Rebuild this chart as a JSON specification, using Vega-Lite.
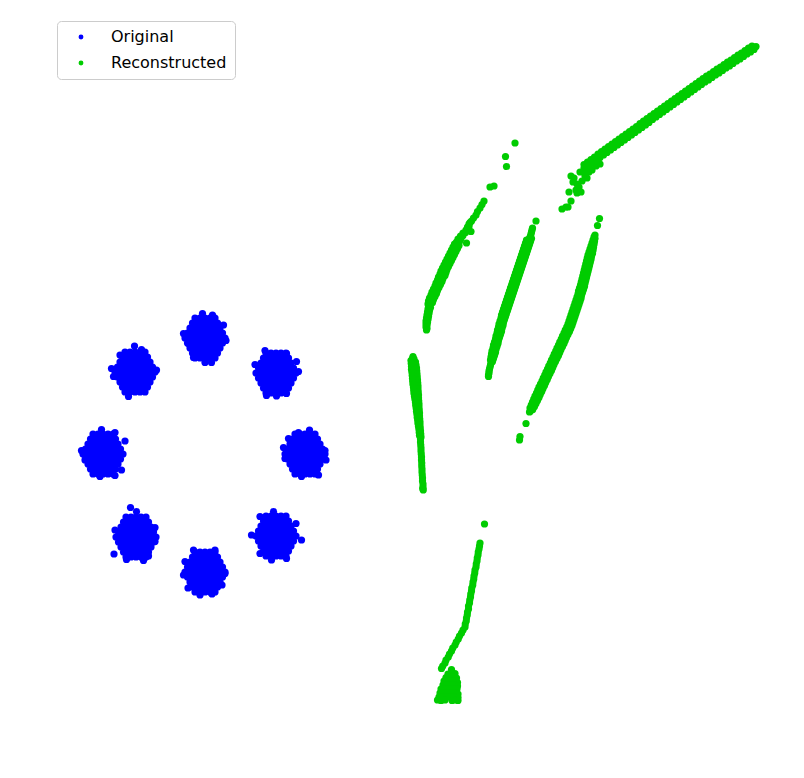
{
"$schema":"https://vega.github.io/schema/vega-lite/v6.json",
"width":804,"height":778,"padding":0,"autosize":{"type":"none"},
"config":{"view":{"stroke":null}},
"datasets":{
"orig":[
{"x":-0.18,"y":2.74},{"x":-0.08,"y":2.74},{"x":0.02,"y":2.74},{"x":0.12,"y":2.74},{"x":0.22,"y":2.74},
{"x":-0.23,"y":2.64},{"x":-0.13,"y":2.64},{"x":-0.03,"y":2.64},{"x":0.07,"y":2.64},{"x":0.17,"y":2.64},{"x":0.27,"y":2.64},
{"x":-0.28,"y":2.54},{"x":-0.18,"y":2.54},{"x":-0.08,"y":2.54},{"x":0.02,"y":2.54},{"x":0.12,"y":2.54},{"x":0.22,"y":2.54},{"x":0.32,"y":2.54},
{"x":-0.33,"y":2.44},{"x":-0.23,"y":2.44},{"x":-0.13,"y":2.44},{"x":-0.03,"y":2.44},{"x":0.07,"y":2.44},{"x":0.17,"y":2.44},{"x":0.27,"y":2.44},{"x":0.37,"y":2.44},
{"x":-0.38,"y":2.34},{"x":-0.28,"y":2.34},{"x":-0.18,"y":2.34},{"x":-0.08,"y":2.34},{"x":0.02,"y":2.34},{"x":0.12,"y":2.34},{"x":0.22,"y":2.34},{"x":0.32,"y":2.34},{"x":0.42,"y":2.34},
{"x":-0.33,"y":2.24},{"x":-0.23,"y":2.24},{"x":-0.13,"y":2.24},{"x":-0.03,"y":2.24},{"x":0.07,"y":2.24},{"x":0.17,"y":2.24},{"x":0.27,"y":2.24},{"x":0.37,"y":2.24},
{"x":-0.28,"y":2.14},{"x":-0.18,"y":2.14},{"x":-0.08,"y":2.14},{"x":0.02,"y":2.14},{"x":0.12,"y":2.14},{"x":0.22,"y":2.14},{"x":0.32,"y":2.14},
{"x":-0.23,"y":2.04},{"x":-0.13,"y":2.04},{"x":-0.03,"y":2.04},{"x":0.07,"y":2.04},{"x":0.17,"y":2.04},{"x":0.27,"y":2.04},
{"x":-0.18,"y":1.94},{"x":-0.08,"y":1.94},{"x":0.02,"y":1.94},{"x":0.12,"y":1.94},{"x":0.22,"y":1.94},
{"x":-0.03,"y":2.83},{"x":0.17,"y":2.8},{"x":-0.41,"y":2.43},{"x":0.44,"y":2.29},{"x":-0.31,"y":2.23},{"x":0.02,"y":1.85},{"x":0.15,"y":1.85},{"x":-0.21,"y":1.95},{"x":0.39,"y":2.6},

{"x":-1.58,"y":2.06},{"x":-1.48,"y":2.06},{"x":-1.38,"y":2.06},{"x":-1.28,"y":2.06},{"x":-1.18,"y":2.06},
{"x":-1.63,"y":1.96},{"x":-1.53,"y":1.96},{"x":-1.43,"y":1.96},{"x":-1.33,"y":1.96},{"x":-1.23,"y":1.96},{"x":-1.13,"y":1.96},
{"x":-1.68,"y":1.86},{"x":-1.58,"y":1.86},{"x":-1.48,"y":1.86},{"x":-1.38,"y":1.86},{"x":-1.28,"y":1.86},{"x":-1.18,"y":1.86},{"x":-1.08,"y":1.86},
{"x":-1.73,"y":1.76},{"x":-1.63,"y":1.76},{"x":-1.53,"y":1.76},{"x":-1.43,"y":1.76},{"x":-1.33,"y":1.76},{"x":-1.23,"y":1.76},{"x":-1.13,"y":1.76},{"x":-1.03,"y":1.76},
{"x":-1.78,"y":1.66},{"x":-1.68,"y":1.66},{"x":-1.58,"y":1.66},{"x":-1.48,"y":1.66},{"x":-1.38,"y":1.66},{"x":-1.28,"y":1.66},{"x":-1.18,"y":1.66},{"x":-1.08,"y":1.66},{"x":-0.98,"y":1.66},
{"x":-1.73,"y":1.56},{"x":-1.63,"y":1.56},{"x":-1.53,"y":1.56},{"x":-1.43,"y":1.56},{"x":-1.33,"y":1.56},{"x":-1.23,"y":1.56},{"x":-1.13,"y":1.56},{"x":-1.03,"y":1.56},
{"x":-1.68,"y":1.46},{"x":-1.58,"y":1.46},{"x":-1.48,"y":1.46},{"x":-1.38,"y":1.46},{"x":-1.28,"y":1.46},{"x":-1.18,"y":1.46},{"x":-1.08,"y":1.46},
{"x":-1.63,"y":1.36},{"x":-1.53,"y":1.36},{"x":-1.43,"y":1.36},{"x":-1.33,"y":1.36},{"x":-1.23,"y":1.36},{"x":-1.13,"y":1.36},
{"x":-1.58,"y":1.26},{"x":-1.48,"y":1.26},{"x":-1.38,"y":1.26},{"x":-1.28,"y":1.26},{"x":-1.18,"y":1.26},
{"x":-1.39,"y":2.18},{"x":-1.25,"y":2.11},{"x":-1.85,"y":1.73},{"x":-0.95,"y":1.7},{"x":-1.51,"y":1.17},{"x":-1.81,"y":1.57},{"x":-1.68,"y":2.0},

{"x":1.24,"y":2.04},{"x":1.34,"y":2.04},{"x":1.44,"y":2.04},{"x":1.54,"y":2.04},{"x":1.64,"y":2.04},
{"x":1.19,"y":1.94},{"x":1.29,"y":1.94},{"x":1.39,"y":1.94},{"x":1.49,"y":1.94},{"x":1.59,"y":1.94},{"x":1.69,"y":1.94},
{"x":1.14,"y":1.84},{"x":1.24,"y":1.84},{"x":1.34,"y":1.84},{"x":1.44,"y":1.84},{"x":1.54,"y":1.84},{"x":1.64,"y":1.84},{"x":1.74,"y":1.84},
{"x":1.09,"y":1.74},{"x":1.19,"y":1.74},{"x":1.29,"y":1.74},{"x":1.39,"y":1.74},{"x":1.49,"y":1.74},{"x":1.59,"y":1.74},{"x":1.69,"y":1.74},{"x":1.79,"y":1.74},
{"x":1.04,"y":1.64},{"x":1.14,"y":1.64},{"x":1.24,"y":1.64},{"x":1.34,"y":1.64},{"x":1.44,"y":1.64},{"x":1.54,"y":1.64},{"x":1.64,"y":1.64},{"x":1.74,"y":1.64},{"x":1.84,"y":1.64},
{"x":1.09,"y":1.54},{"x":1.19,"y":1.54},{"x":1.29,"y":1.54},{"x":1.39,"y":1.54},{"x":1.49,"y":1.54},{"x":1.59,"y":1.54},{"x":1.69,"y":1.54},{"x":1.79,"y":1.54},
{"x":1.14,"y":1.44},{"x":1.24,"y":1.44},{"x":1.34,"y":1.44},{"x":1.44,"y":1.44},{"x":1.54,"y":1.44},{"x":1.64,"y":1.44},{"x":1.74,"y":1.44},
{"x":1.19,"y":1.34},{"x":1.29,"y":1.34},{"x":1.39,"y":1.34},{"x":1.49,"y":1.34},{"x":1.59,"y":1.34},{"x":1.69,"y":1.34},
{"x":1.24,"y":1.24},{"x":1.34,"y":1.24},{"x":1.44,"y":1.24},{"x":1.54,"y":1.24},{"x":1.64,"y":1.24},
{"x":1.22,"y":2.09},{"x":1.02,"y":1.81},{"x":1.85,"y":1.87},{"x":1.89,"y":1.67},{"x":1.25,"y":1.19},{"x":1.45,"y":1.18},{"x":1.65,"y":1.23},{"x":1.65,"y":2.03},

{"x":-2.22,"y":0.42},{"x":-2.12,"y":0.42},{"x":-2.02,"y":0.42},{"x":-1.92,"y":0.42},{"x":-1.82,"y":0.42},
{"x":-2.27,"y":0.32},{"x":-2.17,"y":0.32},{"x":-2.07,"y":0.32},{"x":-1.97,"y":0.32},{"x":-1.87,"y":0.32},{"x":-1.77,"y":0.32},
{"x":-2.32,"y":0.22},{"x":-2.22,"y":0.22},{"x":-2.12,"y":0.22},{"x":-2.02,"y":0.22},{"x":-1.92,"y":0.22},{"x":-1.82,"y":0.22},{"x":-1.72,"y":0.22},
{"x":-2.37,"y":0.12},{"x":-2.27,"y":0.12},{"x":-2.17,"y":0.12},{"x":-2.07,"y":0.12},{"x":-1.97,"y":0.12},{"x":-1.87,"y":0.12},{"x":-1.77,"y":0.12},{"x":-1.67,"y":0.12},
{"x":-2.42,"y":0.02},{"x":-2.32,"y":0.02},{"x":-2.22,"y":0.02},{"x":-2.12,"y":0.02},{"x":-2.02,"y":0.02},{"x":-1.92,"y":0.02},{"x":-1.82,"y":0.02},{"x":-1.72,"y":0.02},{"x":-1.62,"y":0.02},
{"x":-2.37,"y":-0.08},{"x":-2.27,"y":-0.08},{"x":-2.17,"y":-0.08},{"x":-2.07,"y":-0.08},{"x":-1.97,"y":-0.08},{"x":-1.87,"y":-0.08},{"x":-1.77,"y":-0.08},{"x":-1.67,"y":-0.08},
{"x":-2.32,"y":-0.18},{"x":-2.22,"y":-0.18},{"x":-2.12,"y":-0.18},{"x":-2.02,"y":-0.18},{"x":-1.92,"y":-0.18},{"x":-1.82,"y":-0.18},{"x":-1.72,"y":-0.18},
{"x":-2.27,"y":-0.28},{"x":-2.17,"y":-0.28},{"x":-2.07,"y":-0.28},{"x":-1.97,"y":-0.28},{"x":-1.87,"y":-0.28},{"x":-1.77,"y":-0.28},
{"x":-2.22,"y":-0.38},{"x":-2.12,"y":-0.38},{"x":-2.02,"y":-0.38},{"x":-1.92,"y":-0.38},{"x":-1.82,"y":-0.38},
{"x":-2.05,"y":0.51},{"x":-1.78,"y":0.45},{"x":-1.58,"y":0.28},{"x":-2.45,"y":0.09},{"x":-1.65,"y":-0.3},{"x":-2.08,"y":-0.43},{"x":-1.78,"y":-0.41},{"x":-2.38,"y":-0.1},

{"x":1.82,"y":0.42},{"x":1.92,"y":0.42},{"x":2.02,"y":0.42},{"x":2.12,"y":0.42},{"x":2.22,"y":0.42},
{"x":1.77,"y":0.32},{"x":1.87,"y":0.32},{"x":1.97,"y":0.32},{"x":2.07,"y":0.32},{"x":2.17,"y":0.32},{"x":2.27,"y":0.32},
{"x":1.72,"y":0.22},{"x":1.82,"y":0.22},{"x":1.92,"y":0.22},{"x":2.02,"y":0.22},{"x":2.12,"y":0.22},{"x":2.22,"y":0.22},{"x":2.32,"y":0.22},
{"x":1.67,"y":0.12},{"x":1.77,"y":0.12},{"x":1.87,"y":0.12},{"x":1.97,"y":0.12},{"x":2.07,"y":0.12},{"x":2.17,"y":0.12},{"x":2.27,"y":0.12},{"x":2.37,"y":0.12},
{"x":1.62,"y":0.02},{"x":1.72,"y":0.02},{"x":1.82,"y":0.02},{"x":1.92,"y":0.02},{"x":2.02,"y":0.02},{"x":2.12,"y":0.02},{"x":2.22,"y":0.02},{"x":2.32,"y":0.02},{"x":2.42,"y":0.02},
{"x":1.67,"y":-0.08},{"x":1.77,"y":-0.08},{"x":1.87,"y":-0.08},{"x":1.97,"y":-0.08},{"x":2.07,"y":-0.08},{"x":2.17,"y":-0.08},{"x":2.27,"y":-0.08},{"x":2.37,"y":-0.08},
{"x":1.72,"y":-0.18},{"x":1.82,"y":-0.18},{"x":1.92,"y":-0.18},{"x":2.02,"y":-0.18},{"x":2.12,"y":-0.18},{"x":2.22,"y":-0.18},{"x":2.32,"y":-0.18},
{"x":1.77,"y":-0.28},{"x":1.87,"y":-0.28},{"x":1.97,"y":-0.28},{"x":2.07,"y":-0.28},{"x":2.17,"y":-0.28},{"x":2.27,"y":-0.28},
{"x":1.82,"y":-0.38},{"x":1.92,"y":-0.38},{"x":2.02,"y":-0.38},{"x":2.12,"y":-0.38},{"x":2.22,"y":-0.38},
{"x":2.11,"y":0.5},{"x":1.89,"y":0.45},{"x":1.69,"y":0.33},{"x":1.59,"y":0.15},{"x":2.42,"y":0.09},{"x":2.44,"y":-0.1},{"x":2.29,"y":-0.4},{"x":1.95,"y":-0.43},{"x":1.62,"y":-0.07},

{"x":-1.56,"y":-1.24},{"x":-1.46,"y":-1.24},{"x":-1.36,"y":-1.24},{"x":-1.26,"y":-1.24},{"x":-1.16,"y":-1.24},
{"x":-1.61,"y":-1.34},{"x":-1.51,"y":-1.34},{"x":-1.41,"y":-1.34},{"x":-1.31,"y":-1.34},{"x":-1.21,"y":-1.34},{"x":-1.11,"y":-1.34},
{"x":-1.66,"y":-1.44},{"x":-1.56,"y":-1.44},{"x":-1.46,"y":-1.44},{"x":-1.36,"y":-1.44},{"x":-1.26,"y":-1.44},{"x":-1.16,"y":-1.44},{"x":-1.06,"y":-1.44},
{"x":-1.71,"y":-1.54},{"x":-1.61,"y":-1.54},{"x":-1.51,"y":-1.54},{"x":-1.41,"y":-1.54},{"x":-1.31,"y":-1.54},{"x":-1.21,"y":-1.54},{"x":-1.11,"y":-1.54},{"x":-1.01,"y":-1.54},
{"x":-1.76,"y":-1.64},{"x":-1.66,"y":-1.64},{"x":-1.56,"y":-1.64},{"x":-1.46,"y":-1.64},{"x":-1.36,"y":-1.64},{"x":-1.26,"y":-1.64},{"x":-1.16,"y":-1.64},{"x":-1.06,"y":-1.64},{"x":-0.96,"y":-1.64},
{"x":-1.71,"y":-1.74},{"x":-1.61,"y":-1.74},{"x":-1.51,"y":-1.74},{"x":-1.41,"y":-1.74},{"x":-1.31,"y":-1.74},{"x":-1.21,"y":-1.74},{"x":-1.11,"y":-1.74},{"x":-1.01,"y":-1.74},
{"x":-1.66,"y":-1.84},{"x":-1.56,"y":-1.84},{"x":-1.46,"y":-1.84},{"x":-1.36,"y":-1.84},{"x":-1.26,"y":-1.84},{"x":-1.16,"y":-1.84},{"x":-1.06,"y":-1.84},
{"x":-1.61,"y":-1.94},{"x":-1.51,"y":-1.94},{"x":-1.41,"y":-1.94},{"x":-1.31,"y":-1.94},{"x":-1.21,"y":-1.94},{"x":-1.11,"y":-1.94},
{"x":-1.56,"y":-2.04},{"x":-1.46,"y":-2.04},{"x":-1.36,"y":-2.04},{"x":-1.26,"y":-2.04},{"x":-1.16,"y":-2.04},
{"x":-1.47,"y":-1.05},{"x":-1.35,"y":-1.13},{"x":-0.98,"y":-1.45},{"x":-1.78,"y":-1.5},{"x":-0.98,"y":-1.73},{"x":-1.8,"y":-1.98},{"x":-1.11,"y":-2.02},{"x":-1.21,"y":-2.11},{"x":-1.55,"y":-2.09},

{"x":1.24,"y":-1.22},{"x":1.34,"y":-1.22},{"x":1.44,"y":-1.22},{"x":1.54,"y":-1.22},{"x":1.64,"y":-1.22},
{"x":1.19,"y":-1.32},{"x":1.29,"y":-1.32},{"x":1.39,"y":-1.32},{"x":1.49,"y":-1.32},{"x":1.59,"y":-1.32},{"x":1.69,"y":-1.32},
{"x":1.14,"y":-1.42},{"x":1.24,"y":-1.42},{"x":1.34,"y":-1.42},{"x":1.44,"y":-1.42},{"x":1.54,"y":-1.42},{"x":1.64,"y":-1.42},{"x":1.74,"y":-1.42},
{"x":1.09,"y":-1.52},{"x":1.19,"y":-1.52},{"x":1.29,"y":-1.52},{"x":1.39,"y":-1.52},{"x":1.49,"y":-1.52},{"x":1.59,"y":-1.52},{"x":1.69,"y":-1.52},{"x":1.79,"y":-1.52},
{"x":1.04,"y":-1.62},{"x":1.14,"y":-1.62},{"x":1.24,"y":-1.62},{"x":1.34,"y":-1.62},{"x":1.44,"y":-1.62},{"x":1.54,"y":-1.62},{"x":1.64,"y":-1.62},{"x":1.74,"y":-1.62},{"x":1.84,"y":-1.62},
{"x":1.09,"y":-1.72},{"x":1.19,"y":-1.72},{"x":1.29,"y":-1.72},{"x":1.39,"y":-1.72},{"x":1.49,"y":-1.72},{"x":1.59,"y":-1.72},{"x":1.69,"y":-1.72},{"x":1.79,"y":-1.72},
{"x":1.14,"y":-1.82},{"x":1.24,"y":-1.82},{"x":1.34,"y":-1.82},{"x":1.44,"y":-1.82},{"x":1.54,"y":-1.82},{"x":1.64,"y":-1.82},{"x":1.74,"y":-1.82},
{"x":1.19,"y":-1.92},{"x":1.29,"y":-1.92},{"x":1.39,"y":-1.92},{"x":1.49,"y":-1.92},{"x":1.59,"y":-1.92},{"x":1.69,"y":-1.92},
{"x":1.24,"y":-2.02},{"x":1.34,"y":-2.02},{"x":1.44,"y":-2.02},{"x":1.54,"y":-2.02},{"x":1.64,"y":-2.02},
{"x":1.39,"y":-1.13},{"x":1.12,"y":-1.23},{"x":0.95,"y":-1.6},{"x":1.95,"y":-1.7},{"x":1.84,"y":-1.37},{"x":1.35,"y":-2.1},{"x":1.65,"y":-2.07},{"x":1.12,"y":-1.97},

{"x":-0.18,"y":-1.94},{"x":-0.08,"y":-1.94},{"x":0.02,"y":-1.94},{"x":0.12,"y":-1.94},{"x":0.22,"y":-1.94},
{"x":-0.23,"y":-2.04},{"x":-0.13,"y":-2.04},{"x":-0.03,"y":-2.04},{"x":0.07,"y":-2.04},{"x":0.17,"y":-2.04},{"x":0.27,"y":-2.04},
{"x":-0.28,"y":-2.14},{"x":-0.18,"y":-2.14},{"x":-0.08,"y":-2.14},{"x":0.02,"y":-2.14},{"x":0.12,"y":-2.14},{"x":0.22,"y":-2.14},{"x":0.32,"y":-2.14},
{"x":-0.33,"y":-2.24},{"x":-0.23,"y":-2.24},{"x":-0.13,"y":-2.24},{"x":-0.03,"y":-2.24},{"x":0.07,"y":-2.24},{"x":0.17,"y":-2.24},{"x":0.27,"y":-2.24},{"x":0.37,"y":-2.24},
{"x":-0.38,"y":-2.34},{"x":-0.28,"y":-2.34},{"x":-0.18,"y":-2.34},{"x":-0.08,"y":-2.34},{"x":0.02,"y":-2.34},{"x":0.12,"y":-2.34},{"x":0.22,"y":-2.34},{"x":0.32,"y":-2.34},{"x":0.42,"y":-2.34},
{"x":-0.33,"y":-2.44},{"x":-0.23,"y":-2.44},{"x":-0.13,"y":-2.44},{"x":-0.03,"y":-2.44},{"x":0.07,"y":-2.44},{"x":0.17,"y":-2.44},{"x":0.27,"y":-2.44},{"x":0.37,"y":-2.44},
{"x":-0.28,"y":-2.54},{"x":-0.18,"y":-2.54},{"x":-0.08,"y":-2.54},{"x":0.02,"y":-2.54},{"x":0.12,"y":-2.54},{"x":0.22,"y":-2.54},{"x":0.32,"y":-2.54},
{"x":-0.23,"y":-2.64},{"x":-0.13,"y":-2.64},{"x":-0.03,"y":-2.64},{"x":0.07,"y":-2.64},{"x":0.17,"y":-2.64},{"x":0.27,"y":-2.64},
{"x":-0.18,"y":-2.74},{"x":-0.08,"y":-2.74},{"x":0.02,"y":-2.74},{"x":0.12,"y":-2.74},{"x":0.22,"y":-2.74},
{"x":-0.21,"y":-1.9},{"x":0.22,"y":-1.9},{"x":-0.38,"y":-2.13},{"x":0.42,"y":-2.37},{"x":-0.41,"y":-2.4},{"x":-0.08,"y":-2.8},{"x":0.16,"y":-2.78},{"x":0.36,"y":-2.6},{"x":-0.32,"y":-2.66}
],
"recon":[
{"x":6.22,"y":6.24},{"x":6.03,"y":5.97},{"x":6.05,"y":5.77},
{"x":7.4,"y":5.54},{"x":7.46,"y":5.42},{"x":7.44,"y":5.3},{"x":7.5,"y":5.36},{"x":7.56,"y":5.48},{"x":7.62,"y":5.58},{"x":7.7,"y":5.66},{"x":7.76,"y":5.7},{"x":7.84,"y":5.78},{"x":7.92,"y":5.82},{"x":7.52,"y":5.66},{"x":7.6,"y":5.74},{"x":7.68,"y":5.8},{"x":7.82,"y":5.88},{"x":7.34,"y":5.58},{"x":7.38,"y":5.46},{"x":7.3,"y":5.26},{"x":7.46,"y":5.24},{"x":7.54,"y":5.26},{"x":7.34,"y":5.08},{"x":7.28,"y":4.96},{"x":7.16,"y":4.92},{"x":7.24,"y":4.96},{"x":7.66,"y":5.54},{"x":7.62,"y":5.64},
{"x":7.6,"y":5.81},{"x":7.67,"y":5.86},{"x":7.74,"y":5.91},{"x":7.81,"y":5.96},{"x":7.88,"y":6.02},{"x":7.95,"y":6.07},{"x":8.02,"y":6.12},{"x":8.09,"y":6.17},{"x":8.16,"y":6.22},{"x":8.23,"y":6.27},{"x":8.3,"y":6.32},{"x":8.37,"y":6.37},{"x":8.44,"y":6.42},{"x":8.51,"y":6.47},{"x":8.58,"y":6.52},{"x":8.65,"y":6.57},{"x":8.72,"y":6.63},{"x":8.79,"y":6.68},{"x":8.86,"y":6.73},{"x":8.93,"y":6.78},{"x":9.0,"y":6.83},{"x":9.07,"y":6.88},{"x":9.14,"y":6.93},{"x":9.21,"y":6.98},{"x":9.28,"y":7.03},{"x":9.35,"y":7.08},{"x":9.42,"y":7.13},{"x":9.49,"y":7.18},{"x":9.56,"y":7.23},{"x":9.63,"y":7.28},{"x":9.7,"y":7.33},{"x":9.77,"y":7.38},{"x":9.84,"y":7.43},{"x":9.91,"y":7.48},{"x":9.98,"y":7.53},{"x":10.05,"y":7.58},{"x":10.12,"y":7.62},{"x":10.19,"y":7.67},{"x":10.26,"y":7.72},{"x":10.33,"y":7.76},{"x":10.4,"y":7.81},{"x":10.47,"y":7.86},{"x":10.54,"y":7.9},{"x":10.61,"y":7.95},{"x":10.68,"y":8.0},{"x":10.75,"y":8.04},{"x":10.82,"y":8.09},{"x":10.89,"y":8.14},{"x":10.96,"y":8.18},
{"x":7.64,"y":5.74},{"x":7.71,"y":5.79},{"x":7.78,"y":5.84},{"x":7.85,"y":5.89},{"x":7.92,"y":5.95},{"x":7.99,"y":6.0},{"x":8.06,"y":6.05},{"x":8.13,"y":6.1},{"x":8.2,"y":6.15},{"x":8.27,"y":6.2},{"x":8.34,"y":6.25},{"x":8.41,"y":6.3},{"x":8.48,"y":6.35},{"x":8.55,"y":6.4},{"x":8.62,"y":6.45},{"x":8.69,"y":6.5},{"x":8.76,"y":6.55},{"x":8.83,"y":6.6},{"x":8.9,"y":6.65},{"x":8.97,"y":6.71},{"x":9.04,"y":6.76},{"x":9.11,"y":6.81},{"x":9.18,"y":6.86},{"x":9.25,"y":6.91},{"x":9.32,"y":6.96},{"x":9.39,"y":7.01},{"x":9.46,"y":7.06},{"x":9.53,"y":7.11},{"x":9.6,"y":7.16},{"x":9.67,"y":7.21},{"x":9.74,"y":7.26},{"x":9.81,"y":7.31},{"x":9.88,"y":7.36},{"x":9.95,"y":7.41},{"x":10.02,"y":7.46},{"x":10.09,"y":7.5},{"x":10.16,"y":7.55},{"x":10.23,"y":7.6},{"x":10.3,"y":7.64},{"x":10.37,"y":7.69},{"x":10.44,"y":7.74},{"x":10.51,"y":7.78},{"x":10.58,"y":7.83},{"x":10.65,"y":7.88},{"x":10.72,"y":7.92},{"x":10.79,"y":7.97},{"x":10.86,"y":8.02},{"x":10.93,"y":8.06},{"x":11.0,"y":8.11},{"x":11.04,"y":8.17},

{"x":5.72,"y":5.36},{"x":5.8,"y":5.38},
{"x":5.6,"y":5.08},{"x":5.56,"y":5.01},{"x":5.52,"y":4.94},{"x":5.47,"y":4.87},{"x":5.44,"y":4.8},{"x":5.39,"y":4.74},{"x":5.35,"y":4.68},{"x":5.3,"y":4.62},{"x":5.27,"y":4.56},{"x":5.3,"y":4.57},{"x":5.24,"y":4.5},{"x":5.18,"y":4.44},{"x":5.23,"y":4.45},{"x":5.13,"y":4.38},{"x":5.18,"y":4.39},{"x":5.08,"y":4.32},{"x":5.14,"y":4.33},{"x":5.05,"y":4.26},{"x":5.11,"y":4.27},
{"x":5.34,"y":4.47},{"x":5.25,"y":4.24},{"x":5.32,"y":4.65},
{"x":5.01,"y":4.22},{"x":4.98,"y":4.16},{"x":4.95,"y":4.1},{"x":4.92,"y":4.04},{"x":4.89,"y":3.98},{"x":4.86,"y":3.92},{"x":4.83,"y":3.86},{"x":4.8,"y":3.8},{"x":4.77,"y":3.74},{"x":4.74,"y":3.68},{"x":4.72,"y":3.62},{"x":4.69,"y":3.56},{"x":4.67,"y":3.5},{"x":4.64,"y":3.44},{"x":4.62,"y":3.38},{"x":4.59,"y":3.32},{"x":4.56,"y":3.26},{"x":4.54,"y":3.2},{"x":4.51,"y":3.14},{"x":4.49,"y":3.08},{"x":4.48,"y":3.02},
{"x":5.1,"y":4.19},{"x":5.07,"y":4.13},{"x":5.04,"y":4.07},{"x":5.01,"y":4.01},{"x":4.98,"y":3.95},{"x":4.95,"y":3.89},{"x":4.92,"y":3.83},{"x":4.89,"y":3.77},{"x":4.86,"y":3.71},{"x":4.84,"y":3.65},{"x":4.82,"y":3.59},{"x":4.78,"y":3.53},{"x":4.76,"y":3.47},{"x":4.73,"y":3.41},{"x":4.7,"y":3.35},{"x":4.67,"y":3.29},{"x":4.65,"y":3.23},{"x":4.62,"y":3.17},{"x":4.59,"y":3.11},{"x":4.57,"y":3.05},
{"x":4.49,"y":2.98},{"x":4.53,"y":2.95},{"x":4.48,"y":2.92},{"x":4.51,"y":2.89},{"x":4.47,"y":2.86},{"x":4.5,"y":2.83},{"x":4.46,"y":2.8},{"x":4.49,"y":2.77},{"x":4.45,"y":2.74},{"x":4.48,"y":2.71},{"x":4.44,"y":2.68},{"x":4.47,"y":2.65},{"x":4.44,"y":2.62},{"x":4.46,"y":2.59},{"x":4.44,"y":2.56},{"x":4.46,"y":2.53},{"x":4.45,"y":2.5},

{"x":6.64,"y":4.68},
{"x":6.57,"y":4.54},{"x":6.56,"y":4.5},{"x":6.55,"y":4.46},{"x":6.54,"y":4.42},{"x":6.53,"y":4.38},{"x":6.51,"y":4.34},{"x":6.55,"y":4.33},
{"x":6.45,"y":4.3},{"x":6.53,"y":4.27},{"x":6.43,"y":4.24},{"x":6.51,"y":4.21},{"x":6.41,"y":4.18},{"x":6.49,"y":4.15},{"x":6.39,"y":4.12},{"x":6.47,"y":4.09},{"x":6.37,"y":4.06},{"x":6.45,"y":4.03},{"x":6.35,"y":4.0},{"x":6.43,"y":3.97},{"x":6.33,"y":3.94},{"x":6.41,"y":3.91},{"x":6.31,"y":3.88},{"x":6.39,"y":3.85},{"x":6.29,"y":3.82},{"x":6.37,"y":3.79},{"x":6.27,"y":3.76},{"x":6.35,"y":3.73},{"x":6.25,"y":3.7},{"x":6.33,"y":3.67},{"x":6.23,"y":3.64},{"x":6.31,"y":3.61},{"x":6.21,"y":3.58},{"x":6.29,"y":3.55},{"x":6.19,"y":3.52},{"x":6.27,"y":3.49},{"x":6.17,"y":3.46},{"x":6.25,"y":3.43},{"x":6.15,"y":3.4},{"x":6.23,"y":3.37},{"x":6.13,"y":3.34},{"x":6.21,"y":3.31},{"x":6.11,"y":3.28},{"x":6.19,"y":3.25},{"x":6.09,"y":3.22},{"x":6.17,"y":3.19},{"x":6.07,"y":3.16},{"x":6.15,"y":3.13},{"x":6.05,"y":3.1},{"x":6.13,"y":3.07},{"x":6.03,"y":3.04},{"x":6.11,"y":3.01},{"x":6.01,"y":2.98},{"x":6.09,"y":2.95},{"x":5.99,"y":2.92},{"x":6.07,"y":2.89},{"x":5.97,"y":2.86},{"x":6.05,"y":2.83},{"x":5.95,"y":2.8},{"x":6.03,"y":2.77},{"x":5.94,"y":2.74},{"x":6.01,"y":2.71},{"x":5.92,"y":2.68},{"x":5.99,"y":2.65},{"x":5.9,"y":2.62},{"x":5.98,"y":2.59},{"x":5.89,"y":2.56},{"x":5.96,"y":2.53},{"x":5.87,"y":2.5},{"x":5.95,"y":2.47},{"x":5.86,"y":2.44},{"x":5.93,"y":2.41},{"x":5.84,"y":2.38},{"x":5.91,"y":2.35},{"x":5.83,"y":2.32},{"x":5.89,"y":2.29},{"x":5.81,"y":2.26},{"x":5.88,"y":2.23},{"x":5.79,"y":2.2},{"x":5.86,"y":2.17},{"x":5.78,"y":2.14},{"x":5.84,"y":2.11},{"x":5.76,"y":2.08},{"x":5.83,"y":2.05},{"x":5.75,"y":2.02},{"x":5.81,"y":1.99},{"x":5.74,"y":1.96},{"x":5.79,"y":1.93},{"x":5.73,"y":1.9},{"x":5.77,"y":1.87},
{"x":5.74,"y":1.84},{"x":5.73,"y":1.8},{"x":5.72,"y":1.76},{"x":5.71,"y":1.72},{"x":5.7,"y":1.68},{"x":5.7,"y":1.64},{"x":5.69,"y":1.6},{"x":5.69,"y":1.57},

{"x":7.91,"y":4.73},{"x":7.87,"y":4.59},{"x":6.44,"y":0.63},{"x":6.32,"y":0.37},{"x":6.31,"y":0.3},
{"x":7.82,"y":4.4},{"x":7.8,"y":4.36},{"x":7.82,"y":4.33},{"x":7.78,"y":4.3},{"x":7.81,"y":4.27},{"x":7.76,"y":4.24},{"x":7.8,"y":4.21},{"x":7.74,"y":4.18},{"x":7.79,"y":4.15},{"x":7.72,"y":4.12},{"x":7.78,"y":4.09},{"x":7.7,"y":4.06},{"x":7.77,"y":4.03},{"x":7.68,"y":4.0},{"x":7.75,"y":3.97},{"x":7.665,"y":3.94},{"x":7.74,"y":3.91},{"x":7.65,"y":3.88},{"x":7.725,"y":3.85},{"x":7.635,"y":3.82},{"x":7.71,"y":3.79},{"x":7.62,"y":3.76},{"x":7.695,"y":3.73},{"x":7.605,"y":3.7},{"x":7.68,"y":3.67},{"x":7.59,"y":3.64},{"x":7.665,"y":3.61},{"x":7.575,"y":3.58},{"x":7.65,"y":3.55},{"x":7.56,"y":3.52},{"x":7.635,"y":3.49},{"x":7.545,"y":3.46},{"x":7.62,"y":3.43},{"x":7.53,"y":3.4},{"x":7.61,"y":3.37},{"x":7.51,"y":3.34},{"x":7.59,"y":3.31},{"x":7.49,"y":3.28},{"x":7.57,"y":3.25},{"x":7.48,"y":3.22},{"x":7.55,"y":3.19},{"x":7.46,"y":3.16},{"x":7.54,"y":3.13},{"x":7.44,"y":3.1},{"x":7.52,"y":3.07},{"x":7.42,"y":3.04},{"x":7.5,"y":3.01},{"x":7.4,"y":2.98},{"x":7.48,"y":2.95},{"x":7.38,"y":2.92},{"x":7.46,"y":2.89},{"x":7.36,"y":2.86},{"x":7.44,"y":2.83},{"x":7.34,"y":2.8},{"x":7.42,"y":2.77},{"x":7.32,"y":2.74},{"x":7.4,"y":2.71},{"x":7.3,"y":2.68},{"x":7.38,"y":2.65},{"x":7.28,"y":2.62},{"x":7.36,"y":2.59},{"x":7.255,"y":2.56},{"x":7.335,"y":2.53},{"x":7.225,"y":2.5},{"x":7.31,"y":2.47},{"x":7.2,"y":2.44},{"x":7.28,"y":2.41},{"x":7.17,"y":2.38},{"x":7.25,"y":2.35},{"x":7.145,"y":2.32},{"x":7.225,"y":2.29},{"x":7.115,"y":2.26},{"x":7.2,"y":2.23},{"x":7.09,"y":2.2},{"x":7.17,"y":2.17},{"x":7.06,"y":2.14},{"x":7.14,"y":2.11},{"x":7.035,"y":2.08},{"x":7.115,"y":2.05},{"x":7.005,"y":2.02},{"x":7.09,"y":1.99},{"x":6.98,"y":1.96},{"x":7.06,"y":1.93},{"x":6.95,"y":1.9},{"x":7.03,"y":1.87},{"x":6.925,"y":1.84},{"x":7.0,"y":1.81},{"x":6.895,"y":1.78},{"x":6.975,"y":1.75},{"x":6.87,"y":1.72},{"x":6.95,"y":1.69},{"x":6.84,"y":1.66},{"x":6.92,"y":1.63},{"x":6.815,"y":1.6},{"x":6.89,"y":1.57},{"x":6.785,"y":1.54},{"x":6.865,"y":1.51},{"x":6.76,"y":1.48},{"x":6.835,"y":1.45},{"x":6.73,"y":1.42},{"x":6.81,"y":1.39},{"x":6.7,"y":1.36},{"x":6.78,"y":1.33},{"x":6.675,"y":1.3},{"x":6.755,"y":1.27},{"x":6.65,"y":1.24},{"x":6.725,"y":1.21},{"x":6.62,"y":1.18},{"x":6.7,"y":1.15},{"x":6.595,"y":1.12},{"x":6.67,"y":1.09},{"x":6.57,"y":1.06},{"x":6.64,"y":1.03},{"x":6.545,"y":1.0},{"x":6.61,"y":0.97},{"x":6.52,"y":0.94},{"x":6.575,"y":0.91},{"x":6.53,"y":0.88},{"x":6.51,"y":0.86},

{"x":4.18,"y":1.97},{"x":4.17,"y":1.93},{"x":4.2,"y":1.92},
{"x":4.14,"y":1.89},{"x":4.23,"y":1.86},{"x":4.145,"y":1.83},{"x":4.24,"y":1.8},{"x":4.15,"y":1.77},{"x":4.25,"y":1.74},{"x":4.15,"y":1.71},{"x":4.255,"y":1.68},{"x":4.16,"y":1.65},{"x":4.26,"y":1.62},{"x":4.165,"y":1.59},{"x":4.265,"y":1.56},{"x":4.17,"y":1.53},{"x":4.27,"y":1.5},{"x":4.175,"y":1.47},{"x":4.275,"y":1.44},{"x":4.18,"y":1.41},{"x":4.28,"y":1.38},{"x":4.19,"y":1.35},{"x":4.28,"y":1.32},{"x":4.195,"y":1.29},{"x":4.285,"y":1.26},{"x":4.2,"y":1.23},{"x":4.29,"y":1.2},{"x":4.21,"y":1.17},{"x":4.29,"y":1.14},{"x":4.22,"y":1.11},{"x":4.295,"y":1.08},{"x":4.23,"y":1.05},{"x":4.3,"y":1.02},{"x":4.235,"y":0.99},{"x":4.3,"y":0.96},{"x":4.245,"y":0.93},{"x":4.305,"y":0.9},{"x":4.25,"y":0.87},{"x":4.31,"y":0.84},{"x":4.26,"y":0.81},{"x":4.31,"y":0.78},{"x":4.265,"y":0.75},{"x":4.315,"y":0.72},{"x":4.275,"y":0.69},{"x":4.32,"y":0.66},{"x":4.28,"y":0.63},{"x":4.32,"y":0.6},{"x":4.29,"y":0.57},{"x":4.325,"y":0.54},{"x":4.3,"y":0.51},{"x":4.33,"y":0.48},{"x":4.305,"y":0.45},{"x":4.335,"y":0.42},{"x":4.31,"y":0.39},{"x":4.34,"y":0.36},
{"x":4.33,"y":0.32},{"x":4.33,"y":0.26},{"x":4.335,"y":0.2},{"x":4.34,"y":0.14},{"x":4.34,"y":0.08},{"x":4.345,"y":0.02},{"x":4.35,"y":-0.04},{"x":4.35,"y":-0.1},{"x":4.355,"y":-0.16},{"x":4.355,"y":-0.22},{"x":4.36,"y":-0.28},{"x":4.36,"y":-0.34},{"x":4.365,"y":-0.4},{"x":4.37,"y":-0.46},{"x":4.37,"y":-0.52},{"x":4.38,"y":-0.58},{"x":4.38,"y":-0.64},{"x":4.385,"y":-0.7},{"x":4.375,"y":-0.67},

{"x":5.61,"y":-1.38},
{"x":5.52,"y":-1.76},{"x":5.51,"y":-1.82},{"x":5.5,"y":-1.88},{"x":5.485,"y":-1.94},{"x":5.48,"y":-2.0},{"x":5.465,"y":-2.06},{"x":5.46,"y":-2.12},{"x":5.445,"y":-2.18},{"x":5.44,"y":-2.24},{"x":5.42,"y":-2.3},{"x":5.415,"y":-2.36},{"x":5.4,"y":-2.42},{"x":5.395,"y":-2.48},{"x":5.38,"y":-2.54},{"x":5.375,"y":-2.6},{"x":5.355,"y":-2.66},{"x":5.35,"y":-2.72},{"x":5.335,"y":-2.78},{"x":5.33,"y":-2.84},{"x":5.315,"y":-2.9},{"x":5.31,"y":-2.96},{"x":5.29,"y":-3.02},{"x":5.29,"y":-3.08},{"x":5.27,"y":-3.14},{"x":5.265,"y":-3.2},{"x":5.25,"y":-3.26},{"x":5.245,"y":-3.32},{"x":5.225,"y":-3.38},{"x":5.22,"y":-3.44},{"x":5.18,"y":-3.5},{"x":5.15,"y":-3.56},{"x":5.11,"y":-3.62},{"x":5.085,"y":-3.68},{"x":5.045,"y":-3.74},{"x":5.02,"y":-3.8},{"x":4.975,"y":-3.86},{"x":4.95,"y":-3.92},{"x":4.91,"y":-3.98},{"x":4.885,"y":-4.04},{"x":4.84,"y":-4.1},{"x":4.82,"y":-4.16},{"x":4.775,"y":-4.22},{"x":4.75,"y":-4.27},
{"x":4.95,"y":-4.29},{"x":4.88,"y":-4.38},{"x":4.96,"y":-4.37},{"x":5.02,"y":-4.37},
{"x":4.84,"y":-4.45},{"x":4.92,"y":-4.44},{"x":5.0,"y":-4.44},{"x":5.05,"y":-4.46},
{"x":4.8,"y":-4.52},{"x":4.88,"y":-4.52},{"x":4.96,"y":-4.52},{"x":5.04,"y":-4.52},{"x":5.07,"y":-4.55},
{"x":4.78,"y":-4.6},{"x":4.86,"y":-4.6},{"x":4.94,"y":-4.6},{"x":5.02,"y":-4.6},{"x":5.07,"y":-4.62},
{"x":4.74,"y":-4.68},{"x":4.82,"y":-4.68},{"x":4.9,"y":-4.68},{"x":4.98,"y":-4.68},{"x":5.06,"y":-4.68},
{"x":4.72,"y":-4.76},{"x":4.8,"y":-4.76},{"x":4.88,"y":-4.76},{"x":4.96,"y":-4.76},{"x":5.04,"y":-4.76},{"x":5.08,"y":-4.78},
{"x":4.7,"y":-4.84},{"x":4.78,"y":-4.84},{"x":4.86,"y":-4.84},{"x":4.94,"y":-4.84},{"x":5.02,"y":-4.84},{"x":5.08,"y":-4.85},
{"x":4.67,"y":-4.9},{"x":4.74,"y":-4.91},{"x":4.82,"y":-4.9},{"x":4.96,"y":-4.91},{"x":5.03,"y":-4.9},{"x":5.08,"y":-4.91}
]
},
"layer":[
{"data":{"name":"orig"},
 "mark":{"type":"point","filled":true,"size":52,"fillOpacity":1,"opacity":1,"strokeWidth":0},
 "encoding":{
  "x":{"field":"x","type":"quantitative","scale":{"domain":[-4.08,12.0],"nice":false,"zero":false},"axis":null},
  "y":{"field":"y","type":"quantitative","scale":{"domain":[-6.46,9.1],"nice":false,"zero":false},"axis":null},
  "color":{"datum":"Original","type":"nominal","scale":{"domain":["Original","Reconstructed"],"range":["#0000ff","#00cc00"]},
   "legend":{"title":null,"orient":"none","legendX":57,"legendY":21,"padding":8,"symbolOffset":8,"labelOffset":22,"rowPadding":10,"strokeColor":"#cccccc","fillColor":"#ffffff","cornerRadius":4,"labelFontSize":16,"labelFont":"DejaVu Sans","labelColor":"#000000","symbolType":"circle","symbolSize":24,"symbolOpacity":0.8,"symbolStrokeWidth":0}}
 }},
{"data":{"name":"recon"},
 "mark":{"type":"point","filled":true,"size":52,"fillOpacity":1,"opacity":1,"strokeWidth":0},
 "encoding":{
  "x":{"field":"x","type":"quantitative"},
  "y":{"field":"y","type":"quantitative"},
  "color":{"datum":"Reconstructed","type":"nominal"}
 }}
]
}
